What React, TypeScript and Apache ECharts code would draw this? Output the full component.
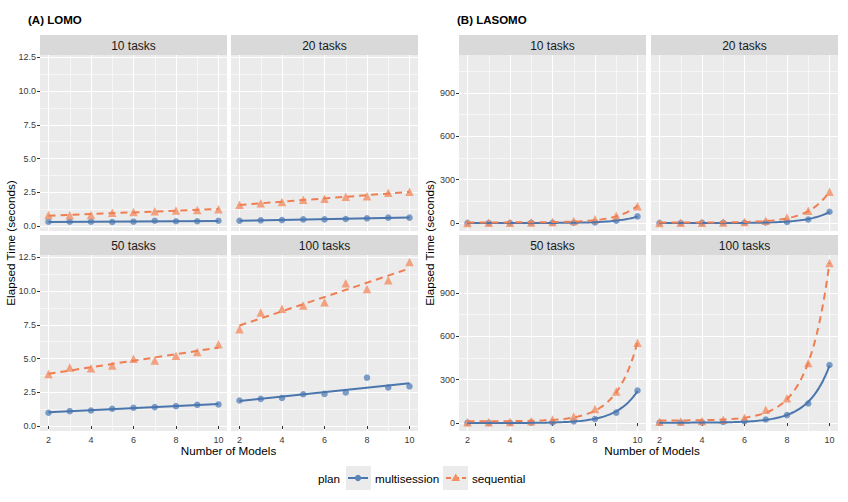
import React, { useEffect, useRef } from "react";
import * as echarts from "echarts";

// Number of models on the x axis
const models = [2, 3, 4, 5, 6, 7, 8, 9, 10];

// (A) LOMO elapsed times in seconds
const lomoMulti10 = [0.32, 0.32, 0.32, 0.3, 0.32, 0.39, 0.35, 0.35, 0.39];
const lomoSeq10 = [0.81, 0.79, 0.81, 0.99, 1.04, 1.09, 1.14, 1.19, 1.24];
const lomoMulti20 = [0.39, 0.42, 0.44, 0.49, 0.49, 0.52, 0.57, 0.62, 0.62];
const lomoSeq20 = [1.58, 1.68, 1.78, 1.95, 2.02, 2.17, 2.2, 2.47, 2.54];
const lomoMulti50 = [0.98, 1.1, 1.15, 1.28, 1.35, 1.4, 1.47, 1.57, 1.6];
const lomoSeq50 = [3.85, 4.34, 4.27, 4.49, 4.98, 4.85, 5.2, 5.49, 6.06];
const lomoMulti100 = [1.89, 2.01, 2.08, 2.35, 2.38, 2.48, 3.58, 2.85, 2.94];
const lomoSeq100 = [7.16, 8.41, 8.68, 8.93, 9.17, 10.57, 10.15, 10.79, 12.16];

// (B) LASOMO elapsed times in seconds
const lasomoMulti10 = [0.4, 0.5, 0.7, 1.0, 1.4, 2.3, 4.5, 16, 46];
const lasomoSeq10 = [0.9, 1.3, 1.9, 3, 7, 14, 26, 51, 117];
const lasomoMulti20 = [0.5, 0.7, 1.0, 1.4, 2.1, 3.5, 7, 25, 78];
const lasomoSeq20 = [1.2, 1.8, 2.6, 4, 7, 16, 38, 85, 217];
const lasomoMulti50 = [1, 1.4, 2, 3, 5, 12, 28, 72, 225];
const lasomoSeq50 = [5, 6, 8, 13, 24, 45, 98, 218, 555];
const lasomoMulti100 = [2, 3, 4.5, 7, 13, 25, 55, 135, 402];
const lasomoSeq100 = [9, 11, 15, 22, 37, 92, 172, 415, 1108];

// Facet labels and axis breaks
const taskLabels = ["10 tasks", "20 tasks", "50 tasks", "100 tasks"];
const modelTicks = [2, 4, 6, 8, 10];
const modelMinor = [3, 5, 7, 9];
const lomoTicks = [0, 2.5, 5, 7.5, 10, 12.5];
const lomoMinor = [1.25, 3.75, 6.25, 8.75, 11.25];
const lasomoTicks = [0, 300, 600, 900];
const lasomoMinor = [150, 450, 750, 1050];

const FONT = "'Liberation Sans', Arial, Helvetica, sans-serif";
const BLUE_LINE = "#4A75AD";
const BLUE_POINT = "#5B86BB";
const ORANGE_LINE = "#EF7E52";
const ORANGE_POINT = "#F38F64";
const PANEL_BG = "#EBEBEB";
const STRIP_BG = "#D9D9D9";

// Ordinary least-squares fit of y on g(x); returns intercept and slope
function leastSquares(xs: number[], ys: number[], g: (x: number) => number) {
  const gx = xs.map(g);
  const n = xs.length;
  const mx = gx.reduce((a, b) => a + b, 0) / n;
  const my = ys.reduce((a, b) => a + b, 0) / n;
  let sxy = 0;
  let sxx = 0;
  for (let i = 0; i < n; i++) {
    sxy += (gx[i] - mx) * (ys[i] - my);
    sxx += (gx[i] - mx) * (gx[i] - mx);
  }
  const b = sxy / sxx;
  return { a: my - b * mx, b };
}

// Fitted curve evaluated across the range of the models (y ~ g(x))
function fitCurve(ys: number[], g: (x: number) => number, steps: number) {
  const { a, b } = leastSquares(models, ys, g);
  const lo = models[0];
  const hi = models[models.length - 1];
  const out: number[][] = [];
  for (let i = 0; i <= steps; i++) {
    const x = lo + ((hi - lo) * i) / steps;
    out.push([x, a + b * g(x)]);
  }
  return out;
}

type Panel = {
  left: number;
  top: number;
  height: number;
  col: number;
  row: number;
  label: string;
  multi: number[];
  seq: number[];
  lasomo: boolean;
};

const PW = 187;
const panels: Panel[] = [
  { left: 40, top: 55, height: 176, col: 0, row: 0, label: taskLabels[0], multi: lomoMulti10, seq: lomoSeq10, lasomo: false },
  { left: 231, top: 55, height: 176, col: 1, row: 0, label: taskLabels[1], multi: lomoMulti20, seq: lomoSeq20, lasomo: false },
  { left: 40, top: 255, height: 176, col: 0, row: 1, label: taskLabels[2], multi: lomoMulti50, seq: lomoSeq50, lasomo: false },
  { left: 231, top: 255, height: 176, col: 1, row: 1, label: taskLabels[3], multi: lomoMulti100, seq: lomoSeq100, lasomo: false },
  { left: 459, top: 55, height: 176, col: 0, row: 0, label: taskLabels[0], multi: lasomoMulti10, seq: lasomoSeq10, lasomo: true },
  { left: 651, top: 55, height: 176, col: 1, row: 0, label: taskLabels[1], multi: lasomoMulti20, seq: lasomoSeq20, lasomo: true },
  { left: 459, top: 255, height: 176, col: 0, row: 1, label: taskLabels[2], multi: lasomoMulti50, seq: lasomoSeq50, lasomo: true },
  { left: 651, top: 255, height: 176, col: 1, row: 1, label: taskLabels[3], multi: lasomoMulti100, seq: lasomoSeq100, lasomo: true },
];

function buildOption() {
  const grid: any[] = [];
  const xAxis: any[] = [];
  const yAxis: any[] = [];
  const series: any[] = [];
  const graphic: any[] = [];

  panels.forEach((p, i) => {
    grid.push({
      left: p.left,
      top: p.top,
      width: PW,
      height: p.height,
      show: true,
      backgroundColor: PANEL_BG,
      borderWidth: 0,
    });

    const bottomRow = p.row === 1;
    const leftCol = p.col === 0;
    const yMin = p.lasomo ? -55 : -0.37;
    const yMax = p.lasomo ? 1163 : 12.67;
    const yTicks = p.lasomo ? lasomoTicks : lomoTicks;
    const yMinor = p.lasomo ? lasomoMinor : lomoMinor;

    // major x axis
    xAxis.push({
      type: "value",
      gridIndex: i,
      min: 1.6,
      max: 10.4,
      position: "bottom",
      axisLine: { show: false },
      axisTick: { show: bottomRow, length: 3, customValues: modelTicks, lineStyle: { color: "#333", width: 1 } },
      axisLabel: { show: bottomRow, customValues: modelTicks, margin: 4, fontSize: 9, color: "#3A3A3A", fontFamily: FONT },
      splitLine: { show: true, lineStyle: { color: "#FFFFFF", width: 1.1 } },
    });
    // minor x grid lines
    xAxis.push({
      type: "value",
      gridIndex: i,
      min: 1.6,
      max: 10.4,
      position: "top",
      axisLine: { show: false },
      axisTick: { show: false, customValues: modelMinor },
      axisLabel: { show: false },
      splitLine: { show: true, lineStyle: { color: "#FFFFFF", width: 0.55 } },
    });
    // major y axis
    yAxis.push({
      type: "value",
      gridIndex: i,
      min: yMin,
      max: yMax,
      position: "left",
      axisLine: { show: false },
      axisTick: { show: leftCol, length: 3, customValues: yTicks, lineStyle: { color: "#333", width: 1 } },
      axisLabel: {
        show: leftCol,
        customValues: yTicks,
        margin: 4,
        fontSize: 9,
        color: "#3A3A3A",
        fontFamily: FONT,
        formatter: (v: number) => (p.lasomo ? String(v) : v.toFixed(1)),
      },
      splitLine: { show: true, lineStyle: { color: "#FFFFFF", width: 1.1 } },
    });
    // minor y grid lines
    yAxis.push({
      type: "value",
      gridIndex: i,
      min: yMin,
      max: yMax,
      position: "right",
      axisLine: { show: false },
      axisTick: { show: false, customValues: yMinor },
      axisLabel: { show: false },
      splitLine: { show: true, lineStyle: { color: "#FFFFFF", width: 0.55 } },
    });

    const xi = 2 * i;
    const yi = 2 * i;
    const g = p.lasomo ? (x: number) => Math.exp(x) : (x: number) => x;
    const steps = p.lasomo ? 80 : 1;

    series.push({
      type: "scatter",
      name: "multisession",
      xAxisIndex: xi,
      yAxisIndex: yi,
      symbol: "circle",
      symbolSize: 6.5,
      itemStyle: { color: BLUE_POINT },
      data: models.map((m, j) => [m, p.multi[j]]),
      z: 3,
    });
    series.push({
      type: "scatter",
      name: "sequential",
      xAxisIndex: xi,
      yAxisIndex: yi,
      symbol: "triangle",
      symbolSize: 8.5,
      itemStyle: { color: ORANGE_POINT },
      data: models.map((m, j) => [m, p.seq[j]]),
      z: 3,
    });
    series.push({
      type: "line",
      name: "multisession fit",
      xAxisIndex: xi,
      yAxisIndex: yi,
      showSymbol: false,
      symbol: "none",
      lineStyle: { color: BLUE_LINE, width: 2 },
      data: fitCurve(p.multi, g, steps),
      z: 4,
    });
    series.push({
      type: "line",
      name: "sequential fit",
      xAxisIndex: xi,
      yAxisIndex: yi,
      showSymbol: false,
      symbol: "none",
      lineStyle: { color: ORANGE_LINE, width: 2, type: [7, 5] },
      data: fitCurve(p.seq, g, steps),
      z: 4,
    });

    // facet strip
    const stripTop = p.top - 20;
    graphic.push({
      type: "rect",
      shape: { x: p.left, y: stripTop, width: PW, height: 20 },
      style: { fill: STRIP_BG },
      silent: true,
    });
    graphic.push({
      type: "text",
      x: p.left + PW / 2,
      y: stripTop + 10.5,
      style: { text: p.label, fill: "#1A1A1A", font: `12px ${FONT}`, align: "center", verticalAlign: "middle" },
      silent: true,
    });
  });

  // titles
  graphic.push({
    type: "text",
    x: 28,
    y: 20,
    style: { text: "(A) LOMO", fill: "#000", font: `bold 11.5px ${FONT}`, align: "left", verticalAlign: "middle" },
  });
  graphic.push({
    type: "text",
    x: 457,
    y: 20,
    style: { text: "(B) LASOMO", fill: "#000", font: `bold 11.5px ${FONT}`, align: "left", verticalAlign: "middle" },
  });

  // axis titles
  [
    { x: 228.5, ax: 10, ay: 243 },
    { x: 652, ax: 429, ay: 243 },
  ].forEach((t) => {
    graphic.push({
      type: "text",
      x: t.x,
      y: 450,
      style: { text: "Number of Models", fill: "#000", font: `11.7px ${FONT}`, align: "center", verticalAlign: "middle" },
    });
    graphic.push({
      type: "text",
      x: t.ax,
      y: t.ay,
      rotation: Math.PI / 2,
      style: { text: "Elapsed Time (seconds)", fill: "#000", font: `11.7px ${FONT}`, align: "center", verticalAlign: "middle" },
    });
  });

  // legend
  const ly = 478;
  graphic.push({
    type: "text",
    x: 318,
    y: ly,
    style: { text: "plan", fill: "#000", font: `11.7px ${FONT}`, align: "left", verticalAlign: "middle" },
  });
  graphic.push({ type: "rect", shape: { x: 346, y: 466, width: 25, height: 24 }, style: { fill: PANEL_BG } });
  graphic.push({
    type: "line",
    shape: { x1: 348, y1: ly, x2: 368, y2: ly },
    style: { stroke: BLUE_LINE, lineWidth: 2 },
  });
  graphic.push({ type: "circle", shape: { cx: 358, cy: ly, r: 3.2 }, style: { fill: BLUE_POINT } });
  graphic.push({
    type: "text",
    x: 375,
    y: ly,
    style: { text: "multisession", fill: "#000", font: `11.7px ${FONT}`, align: "left", verticalAlign: "middle" },
  });
  graphic.push({ type: "rect", shape: { x: 443, y: 466, width: 25, height: 24 }, style: { fill: PANEL_BG } });
  graphic.push({
    type: "line",
    shape: { x1: 446, y1: ly, x2: 466, y2: ly },
    style: { stroke: ORANGE_LINE, lineWidth: 2, lineDash: [5, 3] },
  });
  graphic.push({
    type: "polygon",
    shape: { points: [[455.7, ly - 4.5], [460, ly + 3], [451.4, ly + 3]] },
    style: { fill: ORANGE_POINT },
  });
  graphic.push({
    type: "text",
    x: 472,
    y: ly,
    style: { text: "sequential", fill: "#000", font: `11.7px ${FONT}`, align: "left", verticalAlign: "middle" },
  });

  return {
    animation: false,
    backgroundColor: "#FFFFFF",
    textStyle: { fontFamily: FONT },
    grid,
    xAxis,
    yAxis,
    series,
    graphic,
  };
}

export default function App() {
  const ref = useRef<HTMLDivElement>(null);

  useEffect(() => {
    if (!ref.current) return;
    const chart = echarts.init(ref.current, undefined, { renderer: "svg" });
    chart.setOption(buildOption() as any);
    return () => {
      chart.dispose();
    };
  }, []);

  return (
    <div
      ref={ref}
      style={{ position: "absolute", left: 0, top: 0, width: 848, height: 502, background: "#FFFFFF" }}
    />
  );
}
